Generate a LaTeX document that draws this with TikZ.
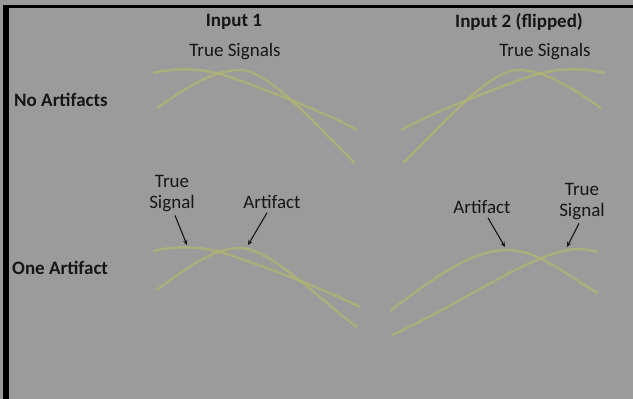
\documentclass[tikz,border=0pt]{standalone}
\usepackage{fontspec}
\setmainfont{Carlito}
\usetikzlibrary{arrows.meta}
\definecolor{bggray}{RGB}{155,155,155}
\definecolor{sigcol}{RGB}{178,184,112}
\definecolor{txtcol}{RGB}{22,22,22}
\tikzset{
  lbl/.style={text=txtcol,font=\fontsize{19}{21}\selectfont,inner sep=0pt,align=center},
  hdr/.style={lbl,font=\fontsize{19}{21}\selectfont\bfseries},
  sig/.style={draw=sigcol,line width=2.4pt,opacity=0.7},
  pointer/.style={draw=txtcol,line width=1.1pt,-{Stealth[length=5pt,width=4.5pt]}}
}
\begin{document}
\begin{tikzpicture}[x=1pt,y=-1pt]
\useasboundingbox (0,0) rectangle (633,399);
\fill[bggray] (0,0) rectangle (633,399);
\fill[black] (3,5) rectangle (633,7.5);
\fill[black] (3,5) rectangle (9,399);

% headings
\node[hdr] (in1) at (234,22) {Input 1};
\node[hdr] (in2) at (519,22) {Input 2 (flipped)};
\node[lbl] (ts1) at (235,52) {True Signals};
\node[lbl] (ts2) at (545,52) {True Signals};
\node[hdr,anchor=west] (noa) at (14,100) {No Artifacts};
\node[hdr,anchor=west] (onea) at (12,268) {One Artifact};

% top-left curves
\draw[sig] (153,73) .. controls (175,68) and (200,67) .. (230,77) .. controls (280,95) and (330,115) .. (357,130);
\draw[sig] (157,108) .. controls (190,85) and (215,70) .. (240,70) .. controls (270,70) and (320,130) .. (355,163);
% top-right curves (mirrored)
\draw[sig] (605,73) .. controls (583,68) and (558,67) .. (528,77) .. controls (478,95) and (428,115) .. (401,130);
\draw[sig] (601,108) .. controls (568,85) and (543,70) .. (518,70) .. controls (488,70) and (438,130) .. (403,163);

% bottom-left curves
\draw[sig] (153,251) .. controls (175,246) and (200,245) .. (230,255) .. controls (280,272) and (330,292) .. (360,307);
\draw[sig] (157,290) .. controls (190,265) and (215,248) .. (240,248) .. controls (270,248) and (320,300) .. (357,327);
% bottom-right curves
\draw[sig] (390,311) .. controls (430,281) and (470,250) .. (507,250) .. controls (540,250) and (570,278) .. (598,293);
\draw[sig] (392,335) .. controls (450,310) and (520,260) .. (567,250) .. controls (580,248) and (590,250) .. (598,252);

% labels with pointers
\node[lbl] (tsl) at (172,194) {True\\Signal};
\node[lbl] (afl) at (272,202) {Artifact};
\node[lbl] (afr) at (482,207) {Artifact};
\node[lbl] (tsr) at (582,202) {True\\Signal};
\coordinate (ptsl) at (187,245);
\coordinate (pafl) at (248,245);
\coordinate (pafr) at (505,247);
\coordinate (ptsr) at (567,247);
\draw[pointer] (tsl.south) ++(3,3) -- (ptsl);
\draw[pointer] (afl.south) ++(-5,4) -- (pafl);
\draw[pointer] (afr.south) ++(6,4) -- (pafr);
\draw[pointer] (tsr.south) ++(-3,3) -- (ptsr);
\end{tikzpicture}
\end{document}
